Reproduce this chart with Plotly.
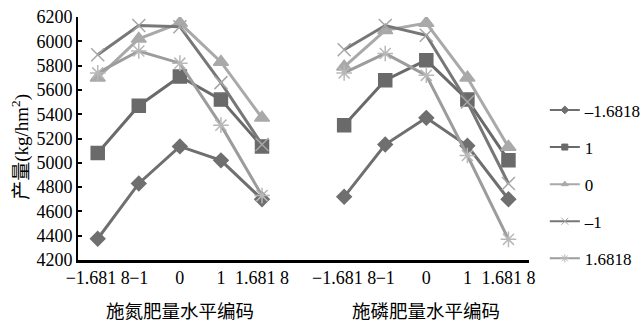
import plotly.graph_objects as go

tick_labels = ["−1.681 8", "−1", "0", "1", "1.681 8"]
series_names = ["–1.6818", "1", "0", "–1", "1.6818"]

# 施氮肥量 panel (left)
n_m16818 = [4375, 4830, 5135, 5020, 4700]
n_p1 = [5080, 5470, 5710, 5520, 5135]
n_0 = [5700, 6020, 6150, 5830, 5370]
n_m1 = [5890, 6130, 6120, 5660, 5150]
n_p16818 = [5740, 5920, 5820, 5310, 4730]

# 施磷肥量 panel (right)
p_m16818 = [4720, 5150, 5370, 5140, 4700]
p_p1 = [5310, 5680, 5845, 5520, 5020]
p_0 = [5790, 6090, 6150, 5700, 5130]
p_m1 = [5930, 6130, 6050, 5500, 4830]
p_p16818 = [5740, 5900, 5720, 5060, 4370]

left_vals = [n_m16818, n_p1, n_0, n_m1, n_p16818]
right_vals = [p_m16818, p_p1, p_0, p_m1, p_p16818]

styles = [
    dict(line="#6f6f6f", marker="#6f6f6f", symbol="diamond", size=11, lsize=6),
    dict(line="#6a6a6a", marker="#6a6a6a", symbol="square", size=13, lsize=6),
    dict(line="#a9a9a9", marker="#a9a9a9", symbol="triangle-up", size=13, lsize=6),
    dict(line="#777777", marker="#a6a6a6", symbol="x-thin-open", size=13, lsize=7),
    dict(line="#9c9c9c", marker="#b8b8b8", symbol="asterisk-open", size=13, lsize=7),
]

n = len(tick_labels)
x_left = list(range(n))
x_right = [i + n + 1 for i in range(n)]
x_all = x_left + [n] + x_right

fig = go.Figure()
for name, lv, rv, st in zip(series_names, left_vals, right_vals, styles):
    fig.add_trace(go.Scatter(
        x=x_all, y=lv + [None] + rv, name=name, mode="lines+markers",
        connectgaps=False, legendgroup=name, showlegend=False,
        line=dict(color=st["line"], width=3),
        marker=dict(symbol=st["symbol"], size=st["size"], color=st["marker"],
                    line=dict(color=st["marker"], width=1.5)),
    ))
# legend entries with small markers
for name, st in zip(series_names, styles):
    fig.add_trace(go.Scatter(
        x=[None], y=[None], name=name, mode="lines+markers",
        legendgroup=name, showlegend=True,
        line=dict(color=st["line"], width=2),
        marker=dict(symbol=st["symbol"], size=st["lsize"], color=st["marker"],
                    line=dict(color=st["marker"], width=1)),
    ))

fig.update_layout(
    width=644, height=330,
    margin=dict(l=78, r=115, t=17, b=70),
    plot_bgcolor="white", paper_bgcolor="white",
    font=dict(family="Liberation Serif, Noto Sans CJK SC", size=16, color="black"),
    legend=dict(xref="container", yref="container", x=0.846, y=0.72,
                xanchor="left", yanchor="top", maxheight=320,
                font=dict(size=17), tracegroupgap=12, itemwidth=30,
                bgcolor="rgba(0,0,0,0)"),
    showlegend=True,
)
fig.update_xaxes(
    range=[-0.48, 10.5], tickvals=x_left + x_right, ticktext=tick_labels + tick_labels,
    tickangle=0,
    showline=True, linecolor="black", linewidth=2.5, ticks="", showgrid=False,
    zeroline=False, tickfont=dict(size=18), automargin=False,
)
fig.update_yaxes(
    range=[4200, 6200], dtick=200, showline=True, linecolor="black", linewidth=2,
    ticks="inside", ticklen=4, tickwidth=2, tickcolor="black", showgrid=False,
    zeroline=False, tickfont=dict(size=18), automargin=False,
)
fig.add_annotation(x=-0.129, y=0.465, xref="paper", yref="paper", textangle=-90,
                   xanchor="center", yanchor="middle",
                   text="产量(kg/hm<sup>2</sup>)", showarrow=False, font=dict(size=19))
fig.add_annotation(x=2, y=-0.215, xref="x", yref="paper", yanchor="middle",
                   text="施氮肥量水平编码", showarrow=False, font=dict(size=18.5))
fig.add_annotation(x=8, y=-0.215, xref="x", yref="paper", yanchor="middle",
                   text="施磷肥量水平编码", showarrow=False, font=dict(size=18.5))

fig.write_html("out.html", config={"displayModeBar": False},
               post_script="document.body.style.margin='0';document.body.style.overflow='hidden';")
